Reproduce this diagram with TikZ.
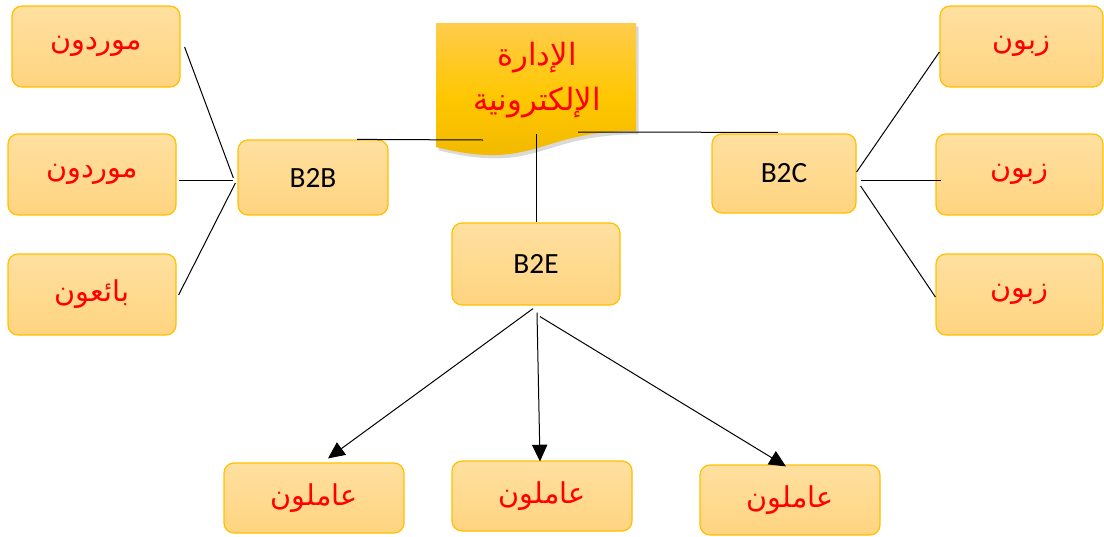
\documentclass[tikz,border=0pt]{standalone}
\usepackage{fontspec}
\setmainfont{Carlito}
\newfontfamily\arabicfont[Script=Arabic]{DejaVu Sans}
\TeXXeTstate=1
\usetikzlibrary{arrows.meta,calc,shadows}

\definecolor{boxtop}{RGB}{255,224,160}
\definecolor{boxbot}{RGB}{255,212,128}
\definecolor{boxedge}{RGB}{255,192,0}
\definecolor{doctop}{RGB}{255,204,76}
\definecolor{docmid}{RGB}{255,199,0}
\definecolor{docbot}{RGB}{238,182,0}
\definecolor{labelred}{RGB}{255,0,0}

\begin{document}
\begin{tikzpicture}[x=0.75pt,y=-0.75pt,
  box/.style={draw=boxedge, line width=0.9pt, rounded corners=7.5pt,
    top color=boxtop, bottom color=boxbot, inner sep=0pt},
  sz/.style 2 args={minimum width=#1*0.75pt, minimum height=#2*0.75pt},
  ar/.style={font=\arabicfont\fontsize{21.5}{34}\selectfont, text=labelred},
  en/.style={font=\fontsize{22}{26}\selectfont, text=black},
  link/.style={draw=black, line width=0.75pt},
  arr/.style={link, -{Triangle[length=12.5pt,width=11.5pt]}}
]
\useasboundingbox (0,0) rectangle (1104,536);

% central document shape with wavy bottom
\path[drop shadow={shadow xshift=2pt, shadow yshift=-2.5pt, opacity=0.3},
      top color=doctop, bottom color=docbot, middle color=docmid]
  (436,23) -- (636,23) -- (636,131)
  .. controls (536,131) and (536,172) .. (436,147) -- cycle;
\node[ar, font=\arabicfont\fontsize{23}{34}\selectfont, align=center, inner sep=0pt] (doc) at (537,80)
  {\beginR الإدارة\endR\\\beginR الإلكترونية\endR};

% second level
\node[box, sz={150}{75}, en] (b2b) at (313,177.5) {B2B};
\node[box, sz={168}{82}, en] (b2e) at (536,264) {B2E};
\node[box, sz={144}{79}, en] (b2c) at (784,173.5) {B2C};

% left column
\node[box, sz={168}{81}, ar] (l1) at (96,46.5) {\beginR موردون\endR};
\node[box, sz={168}{81}, ar] (l2) at (92,174.5) {\beginR موردون\endR};
\node[box, sz={168}{81}, ar] (l3) at (92,294.5) {\beginR بائعون\endR};

% right column
\node[box, sz={163}{81}, ar] (r1) at (1021.5,46.5) {\beginR زبون\endR};
\node[box, sz={167}{81}, ar] (r2) at (1019.5,174.5) {\beginR زبون\endR};
\node[box, sz={167}{81}, ar] (r3) at (1019.5,294.5) {\beginR زبون\endR};

% bottom row
\node[box, sz={180}{70}, ar] (a1) at (314,498) {\beginR عاملون\endR};
\node[box, sz={180}{70}, ar] (a2) at (542,496) {\beginR عاملون\endR};
\node[box, sz={180}{70}, ar] (a3) at (790,500) {\beginR عاملون\endR};

% document to the three categories
\coordinate (dl) at ($(doc.center)+(-54,60)$);
\coordinate (dr) at ($(doc.center)+(41,52)$);
\coordinate (dm) at ($(doc.center)+(-1,54)$);
\draw[link] ($(b2b.north)+(44,0)$) -- (dl);
\draw[link] (dr) -- ($(b2c.north)+(-6,-1)$);
\draw[link] (dm) -- (b2e.north);

% B2B fan
\draw[link] ($(l1.east)+(4,0.5)$) -- ($(b2b.west)+(-4,0.5)$);
\draw[link] ($(l2.east)+(2,5.5)$) -- ($(b2b.west)+(-4,2.5)$);
\draw[link] ($(l3.east)+(2,0.5)$) -- ($(b2b.west)+(-2,5.5)$);

% B2C fan
\draw[link] ($(b2c.east)+(0,-1.5)$) -- ($(r1.west)+(0,5.5)$);
\draw[link] ($(b2c.east)+(4,6.5)$) -- ($(r2.west)+(6,5.5)$);
\draw[link] ($(b2c.east)+(4,12.5)$) -- ($(r3.west)+(0,2.5)$);

% B2E arrows
\draw[arr] ($(b2e.south)+(-3,3)$) -- ($(a1.north)+(14,-4)$);
\draw[arr] ($(b2e.south)+(1,7)$) -- ($(a2.north)+(-2,1)$);
\draw[arr] ($(b2e.south)+(4,11)$) -- ($(a3.north)+(-4,2)$);
\end{tikzpicture}
\end{document}
